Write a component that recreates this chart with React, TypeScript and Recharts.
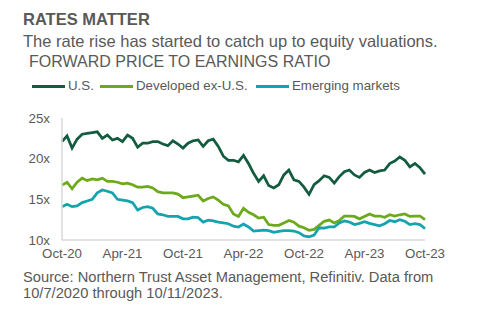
import React from "react";
import { LineChart, Line, XAxis, YAxis } from "recharts";

const FONT = '"Liberation Sans", Arial, sans-serif';
const TEXT_GRAY = "#595959";

// half-month steps from Oct-20 (0) to Oct-23 (72)
const US = [
  22.1, 22.8, 21.3, 22.4, 23.0, 23.1, 23.2, 23.3, 22.5, 22.9, 22.3, 22.5, 22.1,
  22.9, 22.5, 21.4, 21.9, 21.9, 22.1, 22.1, 21.8, 21.6, 22.2, 21.8, 21.3, 21.9,
  22.2, 22.3, 21.5, 22.2, 22.4, 21.5, 20.3, 19.8, 19.8, 19.6, 20.4, 19.4, 18.2,
  17.2, 17.9, 16.7, 16.4, 16.8, 18.0, 18.6, 17.4, 17.2, 16.5, 15.6, 16.8, 17.3,
  17.9, 17.7, 17.0, 17.8, 18.4, 18.6, 18.0, 17.7, 18.3, 18.6, 18.3, 18.5, 18.6,
  19.4, 19.7, 20.2, 19.8, 19.0, 19.4, 18.9, 18.1,
];
const DEV_EX_US = [
  16.75, 17.1, 16.3, 17.1, 17.6, 17.3, 17.5, 17.4, 17.6, 17.2, 17.2, 17.1, 16.9,
  17.0, 16.8, 16.5, 16.5, 16.6, 16.4, 15.95, 15.8, 15.8, 15.8, 15.65, 15.2, 15.3,
  15.4, 15.5, 14.8, 15.1, 15.3, 14.9, 14.4, 14.2, 13.2, 12.9, 13.9, 13.4, 13.1,
  12.7, 12.8, 11.9, 11.8, 11.8, 12.1, 12.4, 12.2, 11.7, 11.5, 11.2, 11.3, 11.8,
  12.3, 12.45, 12.1, 12.4, 12.95, 12.95, 12.9, 12.6, 12.9, 13.2, 12.95, 12.95,
  12.8, 13.1, 12.95, 13.1, 13.2, 12.9, 12.95, 12.95, 12.5,
];
const EMERGING = [
  14.1, 14.4, 14.1, 14.2, 14.6, 14.8, 15.0, 15.8, 16.15, 16.0, 15.8, 15.0, 14.9,
  14.8, 14.6, 13.7, 14.0, 14.1, 13.9, 13.2, 13.1, 12.9, 12.9, 12.9, 12.6, 12.6,
  12.8, 12.75, 12.2, 12.45, 12.35, 12.2, 12.1, 12.0, 11.7, 11.6, 11.95, 11.6,
  11.1, 11.15, 11.2, 11.15, 10.95, 11.05, 11.15, 11.15, 11.1, 10.9, 10.5, 10.4,
  10.6, 11.5, 11.45, 11.6, 11.6, 12.1, 12.35, 12.2, 11.9, 12.05, 12.25, 12.05,
  11.9, 11.75, 12.0, 12.4, 12.25, 12.5, 12.3, 11.9, 12.0, 11.9, 11.4,
];

const X_TICKS = [0, 6, 12, 18, 24, 30, 36];
const X_LABELS = ["Oct-20", "Apr-21", "Oct-21", "Apr-22", "Oct-22", "Apr-23", "Oct-23"];
const Y_TICKS = [10, 15, 20, 25];

const SERIES = [
  { key: "us", name: "U.S.", color: "#135c40", values: US },
  { key: "dev", name: "Developed ex-U.S.", color: "#6caa1c", values: DEV_EX_US },
  { key: "em", name: "Emerging markets", color: "#14a4ae", values: EMERGING },
];

const data = US.map((_, i) => {
  const row: Record<string, number> = { t: i * 0.5 };
  SERIES.forEach((s) => {
    row[s.key] = s.values[i];
  });
  return row;
});

const LEGEND_LEFT = [32, 100, 256];

export default function App() {
  return (
    <div
      style={{
        position: "absolute",
        left: 0,
        top: 0,
        width: 494,
        height: 322,
        background: "#fff",
        fontFamily: FONT,
        color: TEXT_GRAY,
      }}
    >
      <div style={{ position: "absolute", left: 23, top: 8.5, fontSize: 16.5, lineHeight: "20px", fontWeight: 700, whiteSpace: "nowrap" }}>
        RATES MATTER
      </div>
      <div style={{ position: "absolute", left: 23, top: 30.7, fontSize: 16.5, lineHeight: "20px", whiteSpace: "nowrap" }}>
        The rate rise has started to catch up to equity valuations.
      </div>
      <div style={{ position: "absolute", left: 29, top: 52.4, fontSize: 16, lineHeight: "20px", whiteSpace: "nowrap" }}>
        FORWARD PRICE TO EARNINGS RATIO
      </div>

      {/* Legend */}
      {SERIES.map((s, idx) => (
        <div
          key={s.key}
          style={{
            position: "absolute",
            left: LEGEND_LEFT[idx],
            top: 78.3,
            height: 16,
            display: "flex",
            alignItems: "center",
            fontSize: 13.3,
            lineHeight: "16px",
            whiteSpace: "nowrap",
          }}
        >
          <span style={{ display: "inline-block", width: 33, height: 3, background: s.color, marginRight: 3, marginTop: 1 }} />
          <span>{s.name}</span>
        </div>
      ))}

      <div style={{ position: "absolute", left: 0, top: 0 }}>
        <LineChart width={494} height={322} data={data} margin={{ top: 118, right: 69, bottom: 52, left: 22 }}>
          <XAxis
            dataKey="t"
            type="number"
            domain={[0, 36]}
            ticks={X_TICKS}
            tickFormatter={(v: number) => X_LABELS[X_TICKS.indexOf(v)] ?? ""}
            tick={{ fontSize: 13.3, fill: TEXT_GRAY, fontFamily: FONT }}
            tickLine={false}
            axisLine={{ stroke: "#d9d9d9", strokeWidth: 1.5 }}
            tickMargin={3}
            height={30}
            interval={0}
          />
          <YAxis
            type="number"
            domain={[10, 25]}
            ticks={Y_TICKS}
            tickFormatter={(v: number) => `${v}x`}
            tick={{ fontSize: 13.3, fill: TEXT_GRAY, fontFamily: FONT }}
            tickLine={false}
            axisLine={{ stroke: "#d9d9d9", strokeWidth: 1.5 }}
            tickMargin={6}
            width={40}
            interval={0}
          />
          {SERIES.map((s) => (
            <Line
              key={s.key}
              dataKey={s.key}
              name={s.name}
              stroke={s.color}
              strokeWidth={2.75}
              dot={false}
              type="linear"
              isAnimationActive={false}
            />
          ))}
        </LineChart>
      </div>

      <div style={{ position: "absolute", left: 23, top: 268.9, fontSize: 14.7, lineHeight: "16.5px", whiteSpace: "nowrap" }}>
        Source: Northern Trust Asset Management, Refinitiv. Data from
        <br />
        10/7/2020 through 10/11/2023.
      </div>
    </div>
  );
}
